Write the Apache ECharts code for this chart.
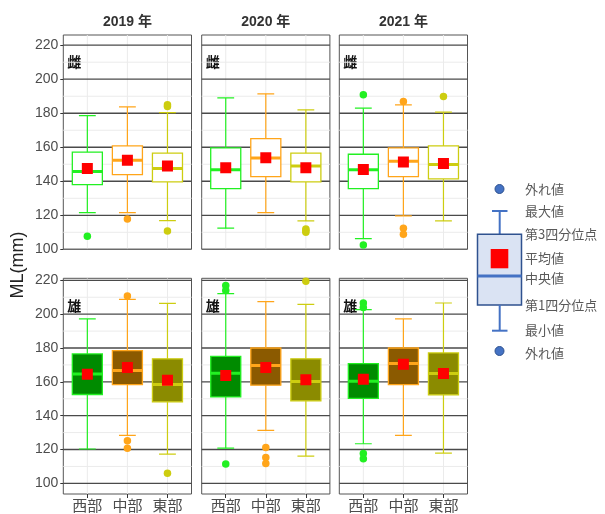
<!DOCTYPE html>
<html>
<head>
<meta charset="utf-8">
<script src="https://cdn.jsdelivr.net/npm/echarts@6/dist/echarts.min.js"></script>
<style>
  html, body { margin: 0; padding: 0; background: #fff; }
  #chart { width: 605px; height: 514px; }
</style>
</head>
<body>
<div id="chart"></div>
<script>
// Mantle length (ML) by region, year and sex
const regions = ['西部', '中部', '東部'];
const yearLabels = ['2019 年', '2020 年', '2021 年'];
const sexLabels = ['雌', '雄'];
const yTicks = [100, 120, 140, 160, 180, 200, 220];
const yMinorTicks = [110, 130, 150, 170, 190, 210];

// Five-number summaries per region: [min, Q1, median, Q3, max]
const femaleBox2019 = [[121.6, 138.0, 145.7, 157.1, 178.6], [121.6, 143.9, 152.4, 160.8, 183.7], [116.9, 139.6, 147.5, 156.5, 180.4]];
const femaleBox2020 = [[112.4, 135.7, 146.7, 159.6, 189.0], [121.6, 142.7, 153.7, 165.1, 191.4], [116.7, 139.6, 149.0, 156.5, 182.0]];
const femaleBox2021 = [[106.3, 135.7, 146.7, 155.9, 183.0], [119.6, 142.7, 151.8, 159.6, 184.9], [116.7, 141.4, 149.8, 160.8, 180.6]];
const maleBox2019 = [[120.3, 152.5, 164.7, 176.5, 197.2], [128.3, 158.4, 166.7, 178.5, 208.8], [117.3, 148.2, 158.4, 173.6, 206.4]];
const maleBox2020 = [[120.8, 151.1, 165.1, 175.1, 212.1], [131.3, 158.0, 169.6, 180.0, 207.4], [116.1, 148.8, 160.2, 173.6, 205.8]];
const maleBox2021 = [[123.4, 150.2, 160.4, 170.8, 202.7], [128.3, 158.4, 170.8, 180.0, 197.2], [117.9, 152.3, 164.9, 177.1, 206.6]];

// Means per region
const femaleMean2019 = [147.5, 152.4, 149.0];
const femaleMean2020 = [148.0, 153.9, 148.0];
const femaleMean2021 = [146.9, 151.4, 150.4];
const maleMean2019 = [164.5, 168.5, 161.0];
const maleMean2020 = [163.7, 168.5, 161.2];
const maleMean2021 = [161.6, 170.4, 164.9];

// Outliers per region
const femaleOut2019 = [[107.6], [117.8], [185.0, 184.0, 110.8]];
const femaleOut2020 = [[], [], [110.0, 111.0, 112.0]];
const femaleOut2021 = [[190.8, 102.5], [186.9, 112.4, 108.8], [189.8]];
const maleOut2019 = [[], [210.8, 125.2, 120.8], [105.9]];
const maleOut2020 = [[217.0, 214.0, 111.4], [121.2, 115.3, 111.8], [219.5]];
const maleOut2021 = [[206.6, 203.9, 117.7, 114.5], [], []];

const lineColors = ['#22F022', '#FFA51A', '#CDCD10'];
const darkFills = ['#008B00', '#8B5A00', '#8B8B00'];

const panels = [
  { row: 0, col: 0, box: femaleBox2019, mean: femaleMean2019, out: femaleOut2019 },
  { row: 0, col: 1, box: femaleBox2020, mean: femaleMean2020, out: femaleOut2020 },
  { row: 0, col: 2, box: femaleBox2021, mean: femaleMean2021, out: femaleOut2021 },
  { row: 1, col: 0, box: maleBox2019, mean: maleMean2019, out: maleOut2019 },
  { row: 1, col: 1, box: maleBox2020, mean: maleMean2020, out: maleOut2020 },
  { row: 1, col: 2, box: maleBox2021, mean: maleMean2021, out: maleOut2021 }
];

const colLeft = [63.3, 201.7, 339.3];
const colWidth = 128.2;
const rowTop = [35, 278.3];
const rowHeight = [214.3, 215.7];
const rowRange = [[100, 226], [93.7, 221.2]];
const FONT = "'Liberation Sans', 'Noto Sans CJK JP', sans-serif";
const CJK = "'Noto Sans CJK JP', sans-serif";

const grids = [], xAxes = [], yAxes = [], series = [];

panels.forEach((p, i) => {
  grids.push({
    left: colLeft[p.col], top: rowTop[p.row], width: colWidth, height: rowHeight[p.row],
    show: true, borderColor: '#555', borderWidth: 1, backgroundColor: '#fff'
  });
  const bottomRow = p.row === 1;
  xAxes.push({
    type: 'value', gridIndex: i, min: 0.4, max: 3.6,
    axisLine: { show: false },
    splitLine: { show: false },
    axisTick: { show: bottomRow, customValues: [1, 2, 3], length: 4, lineStyle: { color: '#333' } },
    axisLabel: {
      show: bottomRow, customValues: [1, 2, 3], margin: 4,
      formatter: v => regions[Math.round(v) - 1] || '',
      fontSize: 15, color: '#4D4D4D', fontFamily: CJK
    }
  });
  yAxes.push({
    type: 'value', gridIndex: i, min: rowRange[p.row][0], max: rowRange[p.row][1],
    axisLine: { show: false },
    splitLine: { show: false },
    axisTick: { show: p.col === 0, customValues: yTicks, length: 3, lineStyle: { color: '#333' } },
    axisLabel: {
      show: p.col === 0, customValues: yTicks, margin: 5,
      fontSize: 14, color: '#4D4D4D', fontFamily: FONT
    }
  });

  // horizontal grid lines (minor light, major dark) and vertical category lines
  const lineSeries = (values, color, width, vertical) => ({
    type: 'custom', xAxisIndex: i, yAxisIndex: i, silent: true, z: 1, clip: true,
    data: values,
    renderItem: (params, api) => {
      const v = api.value(0);
      const a = vertical ? api.coord([v, rowRange[p.row][0]]) : api.coord([0.4, v]);
      const b = vertical ? api.coord([v, rowRange[p.row][1]]) : api.coord([3.6, v]);
      return { type: 'line', shape: { x1: a[0], y1: a[1], x2: b[0], y2: b[1] }, style: { stroke: color, lineWidth: width } };
    }
  });
  series.push(lineSeries(yMinorTicks, '#EBEBEB', 1, false));
  series.push(lineSeries([1, 2, 3], '#EBEBEB', 1, true));
  series.push(lineSeries(yTicks, '#4A4A4A', 1.3, false));

  // boxes
  const boxData = p.box.map((b, k) => [k + 1, b[0], b[1], b[2], b[3], b[4], p.mean[k]]);
  series.push({
    type: 'custom', xAxisIndex: i, yAxisIndex: i, z: 3, clip: true,
    data: boxData,
    renderItem: (params, api) => {
      const k = params.dataIndex;
      const x = api.value(0);
      const mn = api.value(1), q1 = api.value(2), md = api.value(3), q3 = api.value(4), mx = api.value(5), mean = api.value(6);
      const stroke = lineColors[k];
      const fill = bottomRow ? darkFills[k] : '#fff';
      const hw = 0.375, cw = 0.21;
      const tl = api.coord([x - hw, q3]);
      const br = api.coord([x + hw, q1]);
      const top = api.coord([x, mx]);
      const bot = api.coord([x, mn]);
      const capL = api.coord([x - cw, mx]);
      const capR = api.coord([x + cw, mx]);
      const capL2 = api.coord([x - cw, mn]);
      const capR2 = api.coord([x + cw, mn]);
      const medL = api.coord([x - hw, md]);
      const medR = api.coord([x + hw, md]);
      const m = api.coord([x, mean]);
      const s = 11;
      return {
        type: 'group',
        children: [
          { type: 'line', shape: { x1: top[0], y1: top[1], x2: top[0], y2: tl[1] }, style: { stroke, lineWidth: 1.2 } },
          { type: 'line', shape: { x1: bot[0], y1: bot[1], x2: bot[0], y2: br[1] }, style: { stroke, lineWidth: 1.2 } },
          { type: 'line', shape: { x1: capL[0], y1: capL[1], x2: capR[0], y2: capR[1] }, style: { stroke, lineWidth: 1.2 } },
          { type: 'line', shape: { x1: capL2[0], y1: capL2[1], x2: capR2[0], y2: capR2[1] }, style: { stroke, lineWidth: 1.2 } },
          { type: 'rect', shape: { x: tl[0], y: tl[1], width: br[0] - tl[0], height: br[1] - tl[1] }, style: { fill, stroke, lineWidth: 1.3 } },
          { type: 'line', shape: { x1: medL[0], y1: medL[1], x2: medR[0], y2: medR[1] }, style: { stroke, lineWidth: 3 } },
          { type: 'rect', shape: { x: m[0] - s / 2, y: m[1] - s / 2, width: s, height: s }, style: { fill: '#FF0000' } }
        ]
      };
    }
  });

  // outliers
  const outData = [];
  p.out.forEach((vals, k) => vals.forEach(v => outData.push([k + 1, v])));
  series.push({
    type: 'scatter', xAxisIndex: i, yAxisIndex: i, z: 4, symbol: 'circle', symbolSize: 7.5,
    data: outData,
    itemStyle: { color: params => lineColors[params.value[0] - 1], opacity: 1 }
  });
});

// facet strip titles, sex labels, y axis title and box key
const graphics = [];
yearLabels.forEach((t, c) => {
  graphics.push({
    type: 'text', x: colLeft[c] + colWidth / 2, y: 22,
    style: { text: t, fontSize: 14, fontFamily: FONT, fill: '#333', align: 'center', verticalAlign: 'middle', fontWeight: 'bold' }
  });
});
[0, 1].forEach(r => {
  colLeft.forEach(l => {
    graphics.push({
      type: 'text', x: l + 4, y: rowTop[r] + 27,
      style: { text: sexLabels[r], fontSize: 14, fontFamily: CJK, fill: '#111', align: 'left', verticalAlign: 'middle', fontWeight: 'bold' }
    });
  });
});
graphics.push({
  type: 'text', x: 18, y: 265, rotation: Math.PI / 2,
  style: { text: 'ML(mm)', fontSize: 18, fontFamily: FONT, fill: '#222', align: 'center', verticalAlign: 'middle' }
});

const keyBlue = '#4472C4', keyDark = '#2F528F';
graphics.push(
  { type: 'circle', shape: { cx: 499.5, cy: 189, r: 4.5 }, style: { fill: keyBlue, stroke: keyDark, lineWidth: 1 } },
  { type: 'line', shape: { x1: 492, y1: 211, x2: 507.5, y2: 211 }, style: { stroke: keyBlue, lineWidth: 2 } },
  { type: 'line', shape: { x1: 499.7, y1: 211, x2: 499.7, y2: 234.3 }, style: { stroke: keyBlue, lineWidth: 2 } },
  { type: 'rect', shape: { x: 477.5, y: 234.3, width: 44, height: 70.7 }, style: { fill: '#DAE3F3', stroke: keyDark, lineWidth: 1.5 } },
  { type: 'rect', shape: { x: 490.7, y: 249, width: 17.6, height: 19.3 }, style: { fill: '#FF0000' } },
  { type: 'line', shape: { x1: 477.5, y1: 276, x2: 521.5, y2: 276 }, style: { stroke: keyBlue, lineWidth: 3 } },
  { type: 'line', shape: { x1: 499.7, y1: 305, x2: 499.7, y2: 330.7 }, style: { stroke: keyBlue, lineWidth: 2 } },
  { type: 'line', shape: { x1: 492, y1: 330.7, x2: 507.5, y2: 330.7 }, style: { stroke: keyBlue, lineWidth: 2 } },
  { type: 'circle', shape: { cx: 499.5, cy: 351, r: 4.5 }, style: { fill: keyBlue, stroke: keyDark, lineWidth: 1 } }
);
const keyLabels = [['外れ値', 189], ['最大値', 211], ['第3四分位点', 234], ['平均値', 258.3], ['中央値', 278.3], ['第1四分位点', 305], ['最小値', 330], ['外れ値', 353.3]];
keyLabels.forEach(([t, y]) => {
  graphics.push({
    type: 'text', x: 525, y,
    style: { text: t, fontSize: 13, fontFamily: CJK, fill: '#595959', align: 'left', verticalAlign: 'middle' }
  });
});

const chart = echarts.init(document.getElementById('chart'), null, { renderer: 'canvas' });
chart.setOption({
  animation: false,
  backgroundColor: '#fff',
  grid: grids,
  xAxis: xAxes,
  yAxis: yAxes,
  series,
  graphic: graphics
});
</script>
</body>
</html>
